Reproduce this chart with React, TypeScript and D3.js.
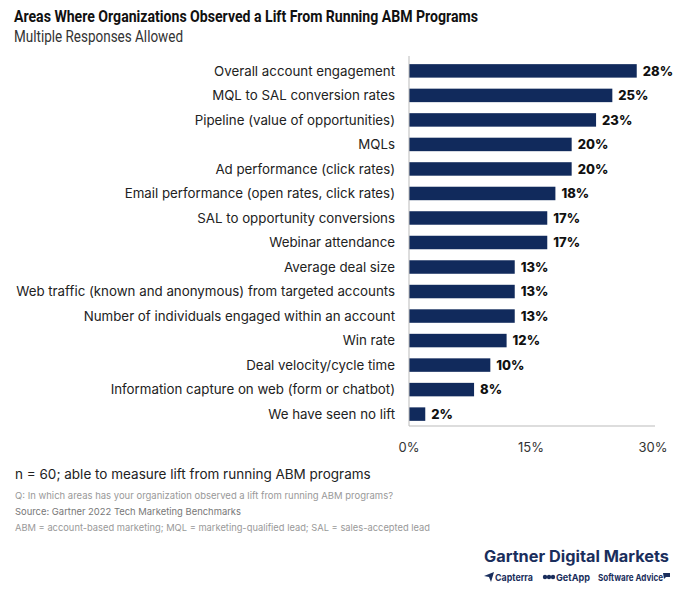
import React from "react";
import * as d3 from "d3";

const categories = [
  "Overall account engagement",
  "MQL to SAL conversion rates",
  "Pipeline (value of opportunities)",
  "MQLs",
  "Ad performance (click rates)",
  "Email performance (open rates, click rates)",
  "SAL to opportunity conversions",
  "Webinar attendance",
  "Average deal size",
  "Web traffic (known and anonymous) from targeted accounts",
  "Number of individuals engaged within an account",
  "Win rate",
  "Deal velocity/cycle time",
  "Information capture on web (form or chatbot)",
  "We have seen no lift",
];
const values = [28, 25, 23, 20, 20, 18, 17, 17, 13, 13, 13, 12, 10, 8, 2];
const ticks = [0, 15, 30];

const W = 688;
const H = 594;
const BAR = "#112a5c";
const FONT = "Inter, 'Noto Sans', Roboto, sans-serif";

export default function App() {
  const x = d3.scaleLinear().domain([0, 30]).range([409, 653]);
  const y = d3
    .scaleBand<string>()
    .domain(categories)
    .range([58.75, 426.25])
    .paddingInner(0.45)
    .paddingOuter(0.22);

  return (
    <svg
      width={W}
      height={H}
      style={{ position: "absolute", left: 0, top: 0, background: "#fff" }}
      fontFamily={FONT}
    >
      <rect width={W} height={H} fill="#fff" />
      <text x={14} y={22} fontSize={17} fontWeight={700} fill="#111" textLength={464} lengthAdjust="spacingAndGlyphs" fontFamily="Roboto, sans-serif">
        Areas Where Organizations Observed a Lift From Running ABM Programs
      </text>
      <text x={14} y={42} fontSize={16} fontWeight={400} fill="#333" textLength={169} lengthAdjust="spacingAndGlyphs" fontFamily="Roboto, sans-serif">
        Multiple Responses Allowed
      </text>

      {categories.map((c, i) => {
        const yy = y(c)!;
        const bw = y.bandwidth();
        const cy = yy + bw / 2;
        return (
          <g key={c}>
            <text x={395} y={cy} dy="0.35em" textAnchor="end" fontSize={13.3} fill="#222">
              {c}
            </text>
            <rect x={x(0)} y={yy} width={x(values[i]) - x(0)} height={bw} fill={BAR} />
            <text x={x(values[i]) + 6} y={cy} dy="0.36em" fontSize={13} fontWeight={800} fill="#111">
              {values[i]}%
            </text>
          </g>
        );
      })}

      <line x1={x(0)} x2={x(0)} y1={56} y2={426} stroke="#bbb" strokeWidth={1} />
      <line x1={x(0)} x2={655} y1={426} y2={426} stroke="#bbb" strokeWidth={1} />

      {ticks.map((t) => (
        <text key={t} x={x(t)} y={452} textAnchor="middle" fontSize={13} fill="#333">
          {t}%
        </text>
      ))}

      <text x={15} y={479} fontSize={13.5} fill="#222">
        n = 60; able to measure lift from running ABM programs
      </text>
      <text x={15} y={499} fontSize={9.5} fill="#999" textLength={378} lengthAdjust="spacingAndGlyphs">
        Q: In which areas has your organization observed a lift from running ABM programs?
      </text>
      <text x={15} y={515} fontSize={9.5} fill="#777" textLength={226} lengthAdjust="spacingAndGlyphs">
        Source: Gartner 2022 Tech Marketing Benchmarks
      </text>
      <text x={15} y={531} fontSize={9.5} fill="#999" textLength={415} lengthAdjust="spacingAndGlyphs">
        ABM = account-based marketing; MQL = marketing-qualified lead; SAL = sales-accepted lead
      </text>

      <text x={484} y={562} fontSize={15.5} fontWeight={700} fill="#1a2e5c" textLength={185} lengthAdjust="spacingAndGlyphs">
        Gartner Digital Markets
      </text>
      <g fill="#1a2e5c">
        <path d="M484,576 L494,572 L491,582 L489,577 Z" />
        <text x={495} y={581} fontSize={9.5} fontWeight={700} textLength={38} lengthAdjust="spacingAndGlyphs">Capterra</text>
        <circle cx={545} cy={577} r={2.2} />
        <circle cx={549} cy={577} r={2.2} />
        <circle cx={553} cy={577} r={2.2} />
        <text x={556} y={581} fontSize={9.5} fontWeight={700} textLength={34} lengthAdjust="spacingAndGlyphs">GetApp</text>
        <text x={598} y={581} fontSize={9.5} fontWeight={700} textLength={65} lengthAdjust="spacingAndGlyphs">Software Advice</text>
        <path d="M663,573 L670,573 L670,577 L666,577 L664,579 Z" />
      </g>
    </svg>
  );
}
